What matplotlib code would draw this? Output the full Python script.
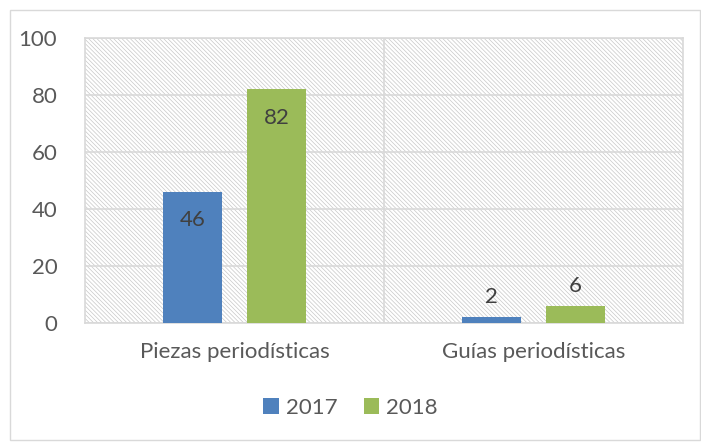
import numpy as np
import matplotlib
matplotlib.use("Agg")
import matplotlib.pyplot as plt
from matplotlib.patches import Rectangle

categories = ["Piezas periodísticas", "Guías periodísticas"]
series_names = ["2017", "2018"]
values_2017 = [46, 2]
values_2018 = [82, 6]
yticks = [0, 20, 40, 60, 80, 100]

text_color = "#595959"
grid_color = "#d9d9d9"
colors = ["#4f81bd", "#9bbb59"]

plt.rcParams["font.family"] = ["Lato", "DejaVu Sans"]
plt.rcParams["hatch.linewidth"] = 0.5
plt.rcParams["hatch.color"] = "#c8c8c8"

fig = plt.figure(figsize=(7.01, 4.42), dpi=100)
ax = fig.add_axes([0.1213, 0.2692, 0.8530, 0.6448])

# outer chart border
fig.patches.append(Rectangle((10 / 701, 2 / 442), 690 / 701, 430 / 442,
                             transform=fig.transFigure, fill=False,
                             edgecolor="#d9d9d9", linewidth=1))

# hatched plot area
ax.add_patch(Rectangle((0, 0), 1, 1, transform=ax.transAxes, facecolor="white",
                       edgecolor="#c8c8c8", hatch="\\" * 8, linewidth=0, zorder=0))

x = np.arange(len(categories))
off = 0.14
w = 0.197
b1 = ax.bar(x - off, values_2017, w, color=colors[0], label=series_names[0], zorder=3)
b2 = ax.bar(x + off, values_2018, w, color=colors[1], label=series_names[1], zorder=3)

# data labels: inside end for big bars, outside end for small ones
for bars in (b1, b2):
    for rect in bars:
        h = rect.get_height()
        cx = rect.get_x() + rect.get_width() / 2
        if h > 20:
            ax.text(cx, h - 6.5, f"{h:g}", ha="center", va="top",
                    fontsize=16, color="#404040", zorder=4)
        else:
            ax.text(cx, h + 3.5, f"{h:g}", ha="center", va="bottom",
                    fontsize=16, color="#404040", zorder=4)

ax.set_xlim(-0.5, 1.5)
ax.set_ylim(0, 100)
ax.set_yticks(yticks)
ax.set_xticks(x)
ax.set_xticklabels(categories)
ax.yaxis.grid(True, color=grid_color, linewidth=1.2, zorder=1)
ax.set_axisbelow(True)
ax.axvline(0.5, color=grid_color, linewidth=1.2, zorder=1)
ax.tick_params(axis="both", length=0, labelsize=16, colors=text_color)
ax.tick_params(axis="x", pad=14)
ax.tick_params(axis="y", pad=20)
for s in ax.spines.values():
    s.set_color(grid_color)
    s.set_linewidth(1.2)

fig.legend(handles=[b1, b2], labels=series_names, loc="center",
           bbox_to_anchor=(0.5, 1 - 408 / 442), ncol=2, frameon=False,
           fontsize=16, labelcolor=text_color, handlelength=0.7, handleheight=0.7,
           handletextpad=0.3, columnspacing=1.2)

fig.savefig("out.png", dpi=100)
